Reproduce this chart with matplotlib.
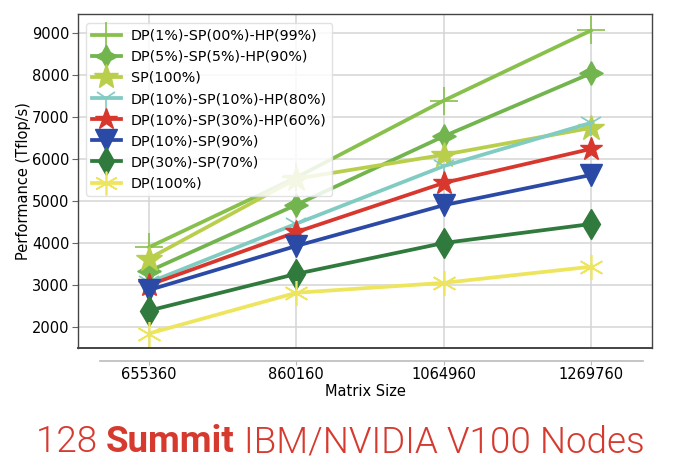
import matplotlib
matplotlib.use("Agg")
import matplotlib.pyplot as plt

matrix_sizes = [655360, 860160, 1064960, 1269760]
tick_labels = ["655360", "860160", "1064960", "1269760"]

series_names = [
    "DP(1%)-SP(00%)-HP(99%)",
    "DP(5%)-SP(5%)-HP(90%)",
    "SP(100%)",
    "DP(10%)-SP(10%)-HP(80%)",
    "DP(10%)-SP(30%)-HP(60%)",
    "DP(10%)-SP(90%)",
    "DP(30%)-SP(70%)",
    "DP(100%)",
]
dp1_sp0_hp99 = [3900, 5560, 7390, 9060]
dp5_sp5_hp90 = [3330, 4910, 6540, 8040]
sp100 = [3630, 5530, 6100, 6740]
dp10_sp10_hp80 = [3060, 4460, 5830, 6860]
dp10_sp30_hp60 = [3000, 4260, 5430, 6240]
dp10_sp90 = [2880, 3930, 4900, 5620]
dp30_sp70 = [2390, 3265, 4000, 4452]
dp100 = [1845, 2815, 3050, 3435]

series_values = [dp1_sp0_hp99, dp5_sp5_hp90, sp100, dp10_sp10_hp80,
                 dp10_sp30_hp60, dp10_sp90, dp30_sp70, dp100]
colors = ["#88c04c", "#72b54e", "#b9cf4c", "#80cbc2", "#d8372e", "#2b4aa6", "#2f7a3c", "#eee55e"]
markers = ["+", (4, 1, 0), "*", "1", "*", "v", "d", (6, 2, 0)]
msizes = [20, 17, 19, 18, 17, 16, 15, 18]
mews = [1.2, 1, 1, 1.2, 1, 1, 1, 1.2]

fig = plt.figure(figsize=(6.8, 4.65), dpi=100)
W, H = 680, 465
ax = fig.add_axes([78 / W, 1 - 348 / H, (652 - 78) / W, (348 - 14) / H])

for name, vals, c, m, ms, mew in zip(series_names, series_values, colors, markers, msizes, mews):
    ax.plot(matrix_sizes, vals, color=c, lw=2.7, marker=m, ms=ms, mew=mew,
            mec=c, mfc=c, label=name, zorder=3)

ax.set_xlim(556640, 1354560)
ax.set_ylim(1500, 9452)
ax.set_xticks(matrix_sizes)
ax.set_xticklabels(tick_labels)
ax.set_yticks([2000, 3000, 4000, 5000, 6000, 7000, 8000, 9000])
ax.grid(True, color="#d4d4d4", lw=1.1, zorder=0)
ax.set_axisbelow(True)

for s in ["left", "right", "top"]:
    ax.spines[s].set_color("#444444")
    ax.spines[s].set_linewidth(1.0)
ax.spines["bottom"].set_position(("outward", 9))
ax.spines["bottom"].set_bounds(587230, 1342060)
ax.spines["bottom"].set_color("#bbbbbb")
ax.spines["bottom"].set_linewidth(1.2)
ax.plot([0, 1], [0, 0], transform=ax.transAxes, color="#444444", lw=1.4, clip_on=False, zorder=5)

ax.tick_params(axis="y", labelsize=10.5, length=4, color="#666666", pad=2)
ax.tick_params(axis="x", labelsize=10.5, length=3, color="#bbbbbb", pad=2)
ax.set_xlabel("Matrix Size", fontsize=10.5, labelpad=1)
ax.set_ylabel("Performance (Tflop/s)", fontsize=10.5, labelpad=1)

leg = ax.legend(loc="upper left", fontsize=10.3, handlelength=2.0, labelspacing=0.5,
                borderpad=0.4, handletextpad=0.7, framealpha=0.85,
                bbox_to_anchor=(0.002, 0.995), markerscale=0.95)
leg.get_frame().set_edgecolor("#dddddd")

# bottom caption with bold middle word, fitted to the reference width
red = "#d63a2f"
fig.canvas.draw()
renderer = fig.canvas.get_renderer()
parts = [("128 ", "normal"), ("Summit", "bold"), (" IBM/NVIDIA V100 Nodes", "light")]
target_w = 645 - 36
fs = 25
widths = []
for txt, wt in parts:
    t = fig.text(0, 0, txt, fontsize=fs, fontweight=("bold" if wt == "bold" else 300), family="Roboto")
    widths.append(t.get_window_extent(renderer).width)
    t.remove()
fs = fs * target_w / sum(widths)
x = 36 / W
y0 = 1 - 452 / H
for txt, wt in parts:
    t = fig.text(x, y0, txt, fontsize=fs, color=red, fontweight=("bold" if wt == "bold" else 300),
                 family="Roboto", va="baseline", ha="left")
    x += t.get_window_extent(renderer).width / W

fig.savefig("out.png", dpi=100)
